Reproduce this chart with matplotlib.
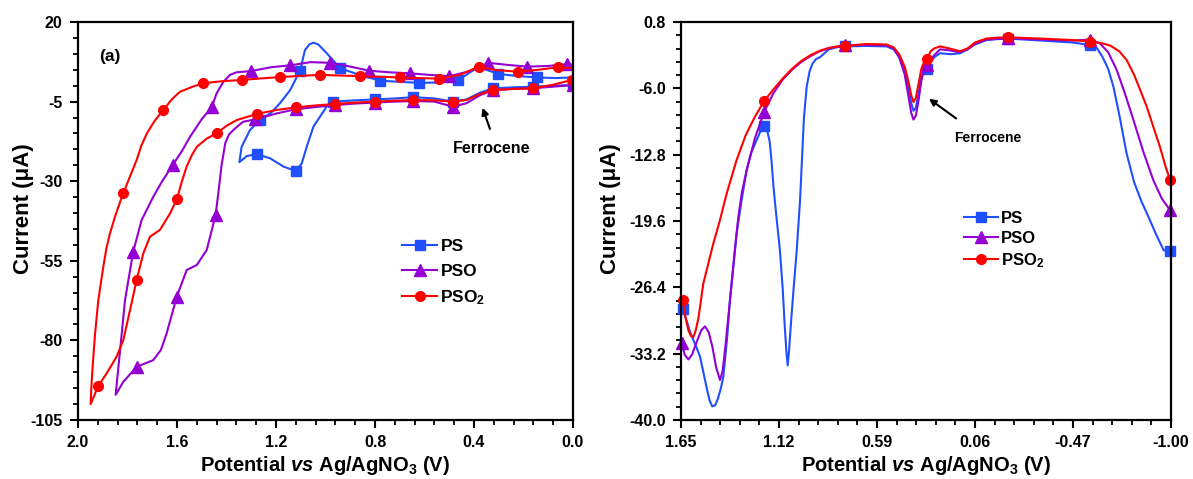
import matplotlib
matplotlib.use("Agg")
from matplotlib import pyplot as plt
from matplotlib.ticker import AutoMinorLocator
from matplotlib.lines import Line2D

plt.rcParams['font.family'] = ['Liberation Sans', 'DejaVu Sans']
plt.rcParams['font.weight'] = 'bold'
plt.rcParams['mathtext.fontset'] = 'custom'
plt.rcParams['mathtext.rm'] = 'Liberation Sans:bold'
plt.rcParams['mathtext.it'] = 'Liberation Sans:bold:italic'
plt.rcParams['mathtext.bf'] = 'Liberation Sans:bold'
plt.rcParams['axes.unicode_minus'] = False

blue = '#1f4fff'
purple = '#9400d3'
red = '#ff0000'

# ---------- (a) cyclic voltammograms : forward / reverse branches ----------
ps_fwd_v = [0.00, 0.07, 0.144, 0.22, 0.302, 0.35, 0.379, 0.42, 0.463, 0.54, 0.621, 0.70, 0.78, 0.86,
            0.941, 0.995, 1.03, 1.049, 1.065, 1.083, 1.103, 1.143, 1.184, 1.22, 1.265, 1.305, 1.339, 1.348]
ps_fwd_i = [2.6, 2.4, 2.6, 3.0, 3.7, 5.0, 6.0, 4.0, 1.8, 1.0, 0.9, 1.2, 1.6, 3.3,
            5.5, 10.2, 13.0, 13.5, 13.0, 11.2, 4.7, -1.4, -5.5, -8.5, -10.8, -13.9, -19.2, -24.0]
ps_fwd_m = [0.144, 0.302, 0.463, 0.621, 0.78, 0.941, 1.103, 1.265]
ps_rev_v = [1.348, 1.318, 1.278, 1.224, 1.17, 1.12, 1.096, 1.076, 1.049, 1.022, 0.995, 0.968, 0.88,
            0.80, 0.72, 0.645, 0.56, 0.484, 0.43, 0.376, 0.322, 0.24, 0.163, 0.08, 0.00]
ps_rev_i = [-24.0, -22.1, -21.5, -22.8, -25.4, -26.8, -24.4, -19.2, -12.9, -9.7, -6.5, -5.0, -4.6,
            -4.3, -4.0, -3.6, -4.0, -5.0, -4.3, -2.2, -0.8, -0.5, -0.3, 0.0, 0.2]
ps_rev_m = [1.278, 1.12, 0.968, 0.80, 0.645, 0.484, 0.322, 0.163, 0.00]

pso_fwd_v = [0.00, 0.023, 0.10, 0.185, 0.26, 0.342, 0.42, 0.50, 0.58, 0.659, 0.74, 0.823, 0.90, 0.982,
             1.06, 1.143, 1.22, 1.301, 1.36, 1.386, 1.413, 1.44, 1.460, 1.50, 1.547, 1.58, 1.617, 1.66,
             1.696, 1.743, 1.777, 1.81, 1.83, 1.848]
pso_fwd_i = [6.6, 6.8, 6.2, 6.0, 6.5, 7.2, 4.5, 3.0, 3.4, 3.9, 4.2, 4.7, 6.0, 7.2,
             7.4, 6.4, 5.8, 4.6, 4.2, 3.4, 1.2, -2.4, -6.8, -10.5, -16.0, -20.5, -24.9, -30.0,
             -34.9, -42.2, -52.1, -67.3, -83.0, -97.1]
pso_fwd_m = [0.023, 0.185, 0.342, 0.50, 0.659, 0.823, 0.982, 1.143, 1.301, 1.460, 1.617, 1.777]
pso_rev_v = [1.848, 1.817, 1.763, 1.696, 1.665, 1.642, 1.601, 1.561, 1.520, 1.480, 1.444, 1.432, 1.42,
             1.405, 1.39, 1.372, 1.35, 1.332, 1.285, 1.197, 1.120, 1.04, 0.962, 0.88, 0.80, 0.72,
             0.645, 0.56, 0.484, 0.43, 0.376, 0.322, 0.24, 0.163, 0.08, 0.00]
pso_rev_i = [-97.1, -93.0, -88.3, -86.2, -83.0, -77.8, -66.3, -57.9, -56.3, -51.6, -40.6, -33.0, -25.0,
             -18.0, -15.3, -13.9, -12.4, -11.3, -10.6, -8.7, -7.4, -6.7, -6.1, -5.6, -5.3, -5.0,
             -4.8, -5.0, -6.6, -5.5, -3.0, -1.4, -1.0, -0.8, -0.3, 0.2]
pso_rev_m = [1.763, 1.601, 1.444, 1.285, 1.120, 0.962, 0.80, 0.645, 0.484, 0.322, 0.163, 0.00]

pso2_fwd_v = [0.00, 0.062, 0.14, 0.221, 0.308, 0.381, 0.457, 0.540, 0.62, 0.699, 0.78, 0.861, 0.94,
              1.022, 1.10, 1.184, 1.26, 1.339, 1.42, 1.496, 1.54, 1.588, 1.62, 1.655, 1.69, 1.722,
              1.745, 1.763, 1.79, 1.817, 1.83, 1.85, 1.871, 1.885, 1.898, 1.918, 1.931, 1.941, 1.946,
              1.949]
pso2_fwd_i = [5.5, 5.8, 5.0, 4.4, 4.9, 6.0, 3.4, 2.2, 2.4, 2.6, 2.8, 3.0, 3.2,
              3.4, 3.1, 2.7, 2.3, 1.8, 1.4, 0.75, -0.4, -1.9, -4.2, -7.6, -11.0, -15.0,
              -19.0, -23.3, -28.5, -33.8, -36.5, -41.0, -46.4, -51.0, -56.9, -67.3, -77.8, -88.3, -94.5,
              -100.0]
pso2_fwd_m = [0.062, 0.221, 0.381, 0.540, 0.699, 0.861, 1.022, 1.184, 1.339, 1.496, 1.655, 1.817]
pso2_rev_v = [1.949, 1.918, 1.884, 1.844, 1.817, 1.790, 1.763, 1.736, 1.709, 1.669, 1.628, 1.601, 1.58,
              1.561, 1.54, 1.520, 1.48, 1.44, 1.40, 1.359, 1.278, 1.197, 1.119, 1.04, 0.962, 0.88,
              0.80, 0.72, 0.645, 0.56, 0.484, 0.43, 0.376, 0.322, 0.24, 0.163, 0.08, 0.005]
pso2_rev_i = [-100.0, -94.3, -90.3, -85.1, -79.9, -70.5, -61.0, -52.6, -47.4, -45.3, -40.1, -35.7, -30.0,
              -25.4, -21.8, -19.2, -16.6, -15.0, -12.6, -10.8, -8.9, -7.6, -6.8, -6.2, -5.75, -5.3,
              -5.0, -4.7, -4.5, -4.6, -5.0, -4.5, -2.6, -1.36, -1.0, -0.8, 0.3, 1.8]
pso2_rev_m = [1.918, 1.763, 1.601, 1.44, 1.278, 1.119, 0.962, 0.80, 0.645, 0.484, 0.322, 0.163, 0.005]

# ---------- (b) linear sweeps ----------
lsv_ps_v = [1.641, 1.62, 1.60, 1.583, 1.565, 1.547, 1.53, 1.51, 1.495, 1.481, 1.465, 1.45, 1.435, 1.421,
            1.40, 1.385, 1.365, 1.349, 1.322, 1.295, 1.27, 1.241, 1.22, 1.2, 1.185, 1.17, 1.16, 1.15,
            1.14, 1.132, 1.115, 1.10, 1.09, 1.08, 1.073, 1.066, 1.055, 1.04, 1.024, 1.006, 0.995,
            0.985, 0.97, 0.955, 0.94, 0.92, 0.898, 0.85, 0.80, 0.763, 0.65, 0.538, 0.50, 0.47, 0.44,
            0.42, 0.405, 0.393, 0.38, 0.365, 0.35, 0.335, 0.321, 0.30, 0.28, 0.249, 0.19, 0.141, 0.10,
            0.06, -0.003, -0.06, -0.12, -0.30, -0.47, -0.562, -0.60, -0.63, -0.66, -0.688, -0.72,
            -0.76, -0.80, -0.84, -0.869, -0.92, -0.96, -0.995]
lsv_ps_i = [-28.6, -29.8, -31.0, -31.8, -32.6, -33.5, -35.0, -36.8, -38.0, -38.6, -38.5, -37.8, -36.8, -35.6,
            -31.5, -27.7, -24.0, -20.9, -17.45, -14.4, -12.6, -11.3, -10.4, -9.9, -10.2, -11.5, -13.5, -16.0,
            -18.0, -19.5, -22.6, -26.5, -30.0, -33.0, -34.4, -33.0, -30.0, -26.3, -22.6, -17.45, -13.0,
            -9.0, -5.8, -4.3, -3.5, -3.0, -2.8, -2.0, -1.75, -1.7, -1.65, -1.7, -2.0, -2.8, -4.2,
            -6.0, -7.5, -8.3, -8.0, -6.5, -4.8, -4.2, -4.0, -3.3, -2.8, -2.4, -2.5, -2.4, -2.0,
            -1.5, -1.05, -0.95, -0.9, -1.1, -1.3, -1.56, -1.9, -2.8, -4.0, -5.8, -8.7,
            -12.7, -15.6, -17.6, -18.8, -21.0, -22.6, -22.7]
lsv_ps_m = [1.641, 1.2, 0.763, 0.321, -0.12, -0.562, -0.995]

lsv_pso_v = [1.646, 1.63, 1.61, 1.59, 1.565, 1.54, 1.52, 1.50, 1.48, 1.46, 1.439, 1.425, 1.41, 1.385,
             1.36, 1.34, 1.32, 1.295, 1.25, 1.2, 1.15, 1.10, 1.05, 1.00, 0.95, 0.90, 0.85, 0.80, 0.763,
             0.65, 0.538, 0.50, 0.47, 0.44, 0.42, 0.405, 0.393, 0.38, 0.365, 0.35, 0.335, 0.321, 0.30,
             0.28, 0.249, 0.2, 0.141, 0.10, 0.06, 0.0, -0.12, -0.30, -0.47, -0.562, -0.616, -0.66,
             -0.706, -0.75, -0.796, -0.85, -0.904, -0.95, -0.995]
lsv_pso_i = [-32.1, -33.3, -33.8, -33.3, -32.0, -30.8, -30.4, -31.0, -32.5, -34.6, -35.9, -35.0, -32.5, -27.7,
             -22.8, -19.2, -16.6, -14.4, -11.1, -8.4, -6.5, -5.1, -4.1, -3.3, -2.7, -2.2, -1.9, -1.7, -1.6,
             -1.55, -1.6, -1.9, -2.8, -4.6, -6.8, -8.5, -9.2, -8.8, -7.2, -5.2, -4.0, -3.6, -3.0,
             -2.6, -2.0, -2.1, -2.3, -2.0, -1.4, -1.0, -0.85, -1.0, -1.1, -1.0, -1.4, -2.3,
             -4.1, -6.5, -9.2, -12.5, -15.4, -17.3, -18.5]
lsv_pso_m = [1.646, 1.2, 0.763, 0.321, -0.12, -0.562, -0.995]

lsv_pso2_v = [1.641, 1.625, 1.61, 1.595, 1.583, 1.57, 1.555, 1.529, 1.50, 1.475, 1.439, 1.412, 1.40, 1.35,
              1.30, 1.25, 1.2, 1.15, 1.10, 1.05, 1.00, 0.95, 0.90, 0.85, 0.80, 0.763, 0.65, 0.538, 0.50,
              0.47, 0.44, 0.42, 0.405, 0.393, 0.38, 0.365, 0.35, 0.335, 0.321, 0.30, 0.28, 0.249, 0.2,
              0.141, 0.10, 0.06, 0.0, -0.06, -0.12, -0.30, -0.47, -0.562, -0.62, -0.67, -0.72, -0.76,
              -0.80, -0.84, -0.869, -0.90, -0.94, -0.97, -0.995]
lsv_pso2_i = [-27.7, -29.5, -30.8, -31.4, -31.5, -30.8, -29.5, -26.0, -23.8, -21.9, -19.5, -17.45, -16.6, -13.4,
              -10.8, -8.9, -7.3, -6.1, -5.0, -4.0, -3.2, -2.6, -2.15, -1.85, -1.7, -1.66, -1.45, -1.5, -1.8,
              -2.5, -3.8, -5.3, -6.7, -7.4, -7.0, -5.5, -4.0, -3.3, -3.0, -2.2, -1.9, -1.7, -1.9,
              -2.2, -1.9, -1.3, -0.9, -0.8, -0.77, -0.9, -1.05, -1.2, -1.35, -1.6, -2.2, -3.1,
              -4.6, -6.5, -7.9, -9.7, -12.0, -14.0, -15.4]
lsv_pso2_m = [1.641, 1.2, 0.763, 0.321, -0.12, -0.562, -0.995]

labels = ['PS', 'PSO', 'PSO$_2$']
colors = [blue, purple, red]
markers = ['s', '^', 'o']


def idx(v, m):
    return [v.index(x) for x in m]


fig = plt.figure(figsize=(11.93, 4.79), dpi=100)
ax1 = fig.add_axes([0.0654, 0.1232, 0.4149, 0.8308])
ax2 = fig.add_axes([0.5708, 0.1232, 0.4108, 0.8308])

cv = [(ps_fwd_v, ps_fwd_i, ps_fwd_m, ps_rev_v, ps_rev_i, ps_rev_m),
      (pso_fwd_v, pso_fwd_i, pso_fwd_m, pso_rev_v, pso_rev_i, pso_rev_m),
      (pso2_fwd_v, pso2_fwd_i, pso2_fwd_m, pso2_rev_v, pso2_rev_i, pso2_rev_m)]
for (fv, fi, fm, rv, ri, rm), c, mk in zip(cv, colors, markers):
    v = fv + rv
    i = fi + ri
    mev = idx(fv, fm) + [len(fv) + k for k in idx(rv, rm)]
    ms = 8 if mk == '^' else 7
    ax1.plot(v, i, color=c, lw=1.5, marker=mk, ms=ms, markevery=mev)

lsv = [(lsv_ps_v, lsv_ps_i, lsv_ps_m), (lsv_pso_v, lsv_pso_i, lsv_pso_m),
       (lsv_pso2_v, lsv_pso2_i, lsv_pso2_m)]
for (v, i, m), c, mk in zip(lsv, colors, markers):
    ms = 8 if mk == '^' else 7
    ax2.plot(v, i, color=c, lw=1.5, marker=mk, ms=ms, markevery=idx(v, m), clip_on=False)

# axes styling
ax1.set_xlim(2.0, 0.0)
ax1.set_ylim(-105, 20)
ax1.set_xticks([2.0, 1.6, 1.2, 0.8, 0.4, 0.0])
ax1.set_xticklabels(['2.0', '1.6', '1.2', '0.8', '0.4', '0.0'])
ax1.set_yticks([-105, -80, -55, -30, -5, 20])
ax1.set_yticklabels(['-105', '-80', '-55', '-30', '-5', '20'])

ax2.set_xlim(1.65, -1.00)
ax2.set_ylim(-40.0, 0.8)
ax2.set_xticks([1.65, 1.12, 0.59, 0.06, -0.47, -1.00])
ax2.set_xticklabels(['1.65', '1.12', '0.59', '0.06', '-0.47', '-1.00'])
ax2.set_yticks([-40.0, -33.2, -26.4, -19.6, -12.8, -6.0, 0.8])
ax2.set_yticklabels(['-40.0', '-33.2', '-26.4', '-19.6', '-12.8', '-6.0', '0.8'])

for ax in (ax1, ax2):
    ax.xaxis.set_minor_locator(AutoMinorLocator(5))
    ax.yaxis.set_minor_locator(AutoMinorLocator(5))
    ax.tick_params(which='major', direction='out', length=6, width=1.5, labelsize=11.5, pad=5)
    ax.tick_params(which='minor', direction='out', length=3.5, width=1.3)
    for s in ax.spines.values():
        s.set_linewidth(1.6)
    ax.set_xlabel(r'Potential $\mathit{vs}$ Ag/AgNO$_3$ (V)', fontsize=14.5, fontweight='bold', labelpad=3)
    ax.set_ylabel('Current (μA)', fontsize=16, fontweight='bold')

ax1.yaxis.set_label_coords(-0.088, 0.53)
ax2.yaxis.set_label_coords(-0.122, 0.53)

ax1.text(1.871, 9.1, '(a)', fontsize=12.5, fontweight='bold', ha='center', va='center')

# ferrocene annotations
ax1.annotate('', xy=(0.369, -6.1), xytext=(0.332, -14.4),
             arrowprops=dict(arrowstyle='-|>', color='black', lw=1.5, mutation_scale=10))
ax1.text(0.327, -19.6, 'Ferrocene', fontsize=11.5, fontweight='bold', ha='center', va='center')
ax2.annotate('', xy=(0.321, -6.9), xytext=(0.150, -9.25),
             arrowprops=dict(arrowstyle='-|>', color='black', lw=1.5, mutation_scale=10))
ax2.text(-0.010, -11.1, 'Ferrocene', fontsize=10, fontweight='bold', ha='center', va='center')

handles = [Line2D([], [], color=c, lw=1.5, marker=mk, ms=8 if mk == '^' else 7)
           for c, mk in zip(colors, markers)]
ax1.legend(handles, labels, loc='upper left', bbox_to_anchor=(0.655, 0.455), frameon=False,
           fontsize=12.5, handlelength=2.0, handletextpad=0.2, labelspacing=0.55, borderpad=0,
           borderaxespad=0)
ax2.legend(handles, labels, loc='upper left', bbox_to_anchor=(0.578, 0.525), frameon=False,
           fontsize=12, handlelength=2.0, handletextpad=0.2, labelspacing=0.3, borderpad=0,
           borderaxespad=0)

fig.savefig('out.png', dpi=100)
